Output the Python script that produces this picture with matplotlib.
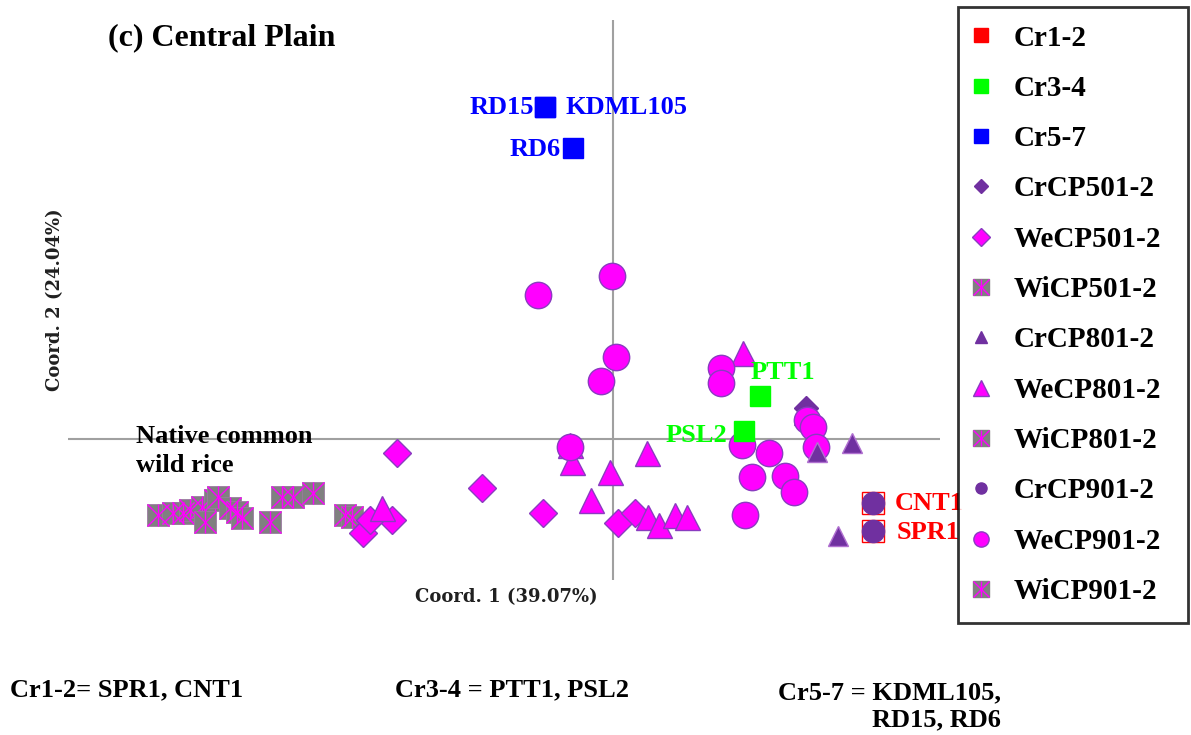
import matplotlib
matplotlib.use("Agg")
import matplotlib.pyplot as plt
from matplotlib.lines import Line2D
from matplotlib.legend_handler import HandlerTuple

# PCoA coordinates (Coord. 1, Coord. 2)
cr12_names = ["CNT1", "SPR1"]
cr12_x = [2.60, 2.60]
cr12_y = [-0.64, -0.92]

cr34_names = ["PTT1", "PSL2"]
cr34_x = [1.47, 1.31]
cr34_y = [0.43, 0.08]

cr57_names = ["KDML105", "RD15", "RD6"]
cr57_x = [-0.68, -0.68, -0.40]
cr57_y = [3.32, 3.32, 2.91]

crcp501_x = [1.93]
crcp501_y = [0.31]

wecp501_x = [-2.16, -1.31, -0.70, 0.05, 0.22, -2.21, -2.50, -2.43]
wecp501_y = [-0.14, -0.49, -0.74, -0.84, -0.74, -0.81, -0.94, -0.81]

wicp501_x = [-4.55, -4.40, -4.30, -4.23, -4.11, -3.98]
wicp501_y = [-0.76, -0.74, -0.74, -0.71, -0.68, -0.61]

crcp801_x = [2.39, 2.25, 2.04]
crcp801_y = [-0.04, -0.97, -0.13]

wecp801_x = [1.30, 1.93, -0.43, -0.41, -0.03, 0.34, -0.22, 0.35, 0.46, 0.62, 0.74, -2.31]
wecp801_y = [0.86, 0.27, -0.06, -0.23, -0.33, -0.14, -0.61, -0.78, -0.86, -0.76, -0.78, -0.69]

wicp801_x = [-3.95, -4.08, -3.83, -3.76, -3.71, -3.43]
wicp801_y = [-0.58, -0.83, -0.69, -0.73, -0.79, -0.83]

crcp901_x = [2.60, 2.60]
crcp901_y = [-0.64, -0.92]

wecp901_x = [-0.01, -0.75, 0.03, -0.12, -0.43, 1.08, 1.08, 1.29, 1.56, 1.39, 1.72, 1.81, 1.32, 1.94, 2.00, 2.03]
wecp901_y = [1.63, 1.44, 0.82, 0.58, -0.08, 0.71, 0.56, -0.06, -0.14, -0.38, -0.37, -0.53, -0.76, 0.19, 0.12, -0.08]

wicp901_x = [-3.31, -3.20, -3.00, -2.68, -2.61]
wicp901_y = [-0.58, -0.58, -0.54, -0.76, -0.78]

legend_labels = ["Cr1-2", "Cr3-4", "Cr5-7", "CrCP501-2", "WeCP501-2", "WiCP501-2",
                 "CrCP801-2", "WeCP801-2", "WiCP801-2", "CrCP901-2", "WeCP901-2", "WiCP901-2"]

MAG = "#FF00FF"
PUR = "#7030A0"
EDGE = "#8A3CC0"
GRAY = "#808080"
SERIF = "Liberation Serif"

fig = plt.figure(figsize=(11.91, 7.35), dpi=100)
ax = fig.add_axes([0, 0, 1, 1])
ax.set_xlim(-6.13, 5.78)
ax.set_ylim(-2.96, 4.39)
ax.axis("off")

# axis cross
ax.hlines(0, -5.45, 3.27, color="#A0A0A0", lw=1.5, zorder=1)
ax.vlines(0, -1.41, 4.19, color="#A0A0A0", lw=1.5, zorder=1)


def wild(x, y, ms=16):
    ax.plot(x, y, ls="none", marker="s", ms=ms, mfc=GRAY, mec="#9A7AA0", mew=0.6, zorder=2)
    ax.plot(x, y, ls="none", marker="x", ms=ms * 0.95, mec=MAG, mew=1.0, zorder=2)
    ax.plot(x, y, ls="none", marker="|", ms=ms * 0.95, mec=MAG, mew=1.0, zorder=2)


wild(wicp501_x, wicp501_y)
wild(wicp801_x, wicp801_y)
wild(wicp901_x, wicp901_y)

ax.plot(wecp501_x, wecp501_y, ls="none", marker="D", ms=14, mfc=MAG, mec=EDGE, mew=1, zorder=3)
ax.plot(wecp801_x, wecp801_y, ls="none", marker="^", ms=18, mfc=MAG, mec=EDGE, mew=1, zorder=3)
ax.plot(wecp901_x, wecp901_y, ls="none", marker="o", ms=19, mfc=MAG, mec=EDGE, mew=1, zorder=4)

ax.plot(crcp501_x, crcp501_y, ls="none", marker="D", ms=12, mfc=PUR, mec=PUR, zorder=3)
ax.plot(crcp801_x, crcp801_y, ls="none", marker="^", ms=15, mfc=PUR, mec="#B070D0", mew=1, zorder=5)

ax.plot(cr12_x, cr12_y, ls="none", marker="s", ms=16, mfc="white", mec="red", mew=1, zorder=5)
ax.plot(crcp901_x, crcp901_y, ls="none", marker="o", ms=16, mfc=PUR, mec=PUR, zorder=6)
ax.plot(cr34_x, cr34_y, ls="none", marker="s", ms=15, mfc="#00FF00", mec="#00FF00", zorder=6)
ax.plot(cr57_x, cr57_y, ls="none", marker="s", ms=14, mfc="#0000FF", mec="#0000FF", zorder=6)

# sample labels
lab = dict(fontsize=19, fontweight="bold", family=SERIF, va="center", textcoords="offset points")
ax.annotate(cr12_names[0], (cr12_x[0], cr12_y[0]), xytext=(16, 0), color="red", ha="left", **lab)
ax.annotate(cr12_names[1], (cr12_x[1], cr12_y[1]), xytext=(17, -1), color="red", ha="left", **lab)
ax.annotate(cr34_names[0], (cr34_x[0], cr34_y[0]), xytext=(-7, 17), color="#00FF00", ha="left", **lab)
ax.annotate(cr34_names[1], (cr34_x[1], cr34_y[1]), xytext=(-12, -3), color="#00FF00", ha="right", **lab)
ax.annotate(cr57_names[0], (cr57_x[0], cr57_y[0]), xytext=(15, 0), color="#0000FF", ha="left", **lab)
ax.annotate(cr57_names[1], (cr57_x[1], cr57_y[1]), xytext=(-8, 0), color="#0000FF", ha="right", **lab)
ax.annotate(cr57_names[2], (cr57_x[2], cr57_y[2]), xytext=(-9, -1), color="#0000FF", ha="right", **lab)

ax.text(-4.77, -0.12, "Native common\nwild rice", fontsize=19, fontweight="bold", family=SERIF,
        ha="left", va="center", linespacing=1.3)

fig.text(108 / 1191, 1 - 38 / 735, "(c) Central Plain", fontsize=23, fontweight="bold",
         family=SERIF, ha="left", va="center")
fig.text(506 / 1191, 1 - 597 / 735, "Coord. 1 (39.07%)", fontsize=13, fontweight="bold",
         family="DejaVu Serif", ha="center", va="center", color="#202020")
fig.text(55 / 1191, 1 - 300 / 735, "Coord. 2 (24.04%)", fontsize=13, fontweight="bold",
         family="DejaVu Serif", ha="center", va="center", rotation=90, color="#202020")

foot = dict(fontsize=19, fontweight="bold", family=SERIF, va="center")
fig.text(10 / 1191, 1 - 690 / 735, "Cr1-2= SPR1, CNT1", ha="left", **foot)
fig.text(395 / 1191, 1 - 690 / 735, "Cr3-4 = PTT1, PSL2", ha="left", **foot)
fig.text(778 / 1191, 1 - 706 / 735, "Cr5-7 = KDML105,\nRD15, RD6", ha="left",
         multialignment="right", linespacing=1.22, **foot)

# legend
def sq(c):
    return Line2D([], [], ls="none", marker="s", ms=10, mfc=c, mec=c)


def wi():
    return (Line2D([], [], ls="none", marker="s", ms=11, mfc=GRAY, mec=GRAY),
            Line2D([], [], ls="none", marker="x", ms=11, mec=MAG, mew=1),
            Line2D([], [], ls="none", marker="|", ms=11, mec=MAG, mew=1))


handles = [
    sq("red"), sq("#00FF00"), sq("#0000FF"),
    Line2D([], [], ls="none", marker="D", ms=7, mfc=PUR, mec=PUR),
    Line2D([], [], ls="none", marker="D", ms=9, mfc=MAG, mec=EDGE),
    wi(),
    Line2D([], [], ls="none", marker="^", ms=8, mfc=PUR, mec=PUR),
    Line2D([], [], ls="none", marker="^", ms=11, mfc=MAG, mec=EDGE),
    wi(),
    Line2D([], [], ls="none", marker="o", ms=8, mfc=PUR, mec=PUR),
    Line2D([], [], ls="none", marker="o", ms=11, mfc=MAG, mec=EDGE),
    wi(),
]
leg = fig.legend(handles, legend_labels, loc="upper left",
                 bbox_to_anchor=(958 / 1191, 1 - 7 / 735, 230 / 1191, 0.0), mode="expand",
                 borderaxespad=0, frameon=True, fancybox=False, edgecolor="black",
                 prop={"family": SERIF, "weight": "bold", "size": 21},
                 handler_map={tuple: HandlerTuple(ndivide=1)},
                 handlelength=0.35, handletextpad=0.95, borderpad=0.6, labelspacing=0.8)
leg.get_frame().set_linewidth(2)

fig.savefig("out.png", dpi=100)
